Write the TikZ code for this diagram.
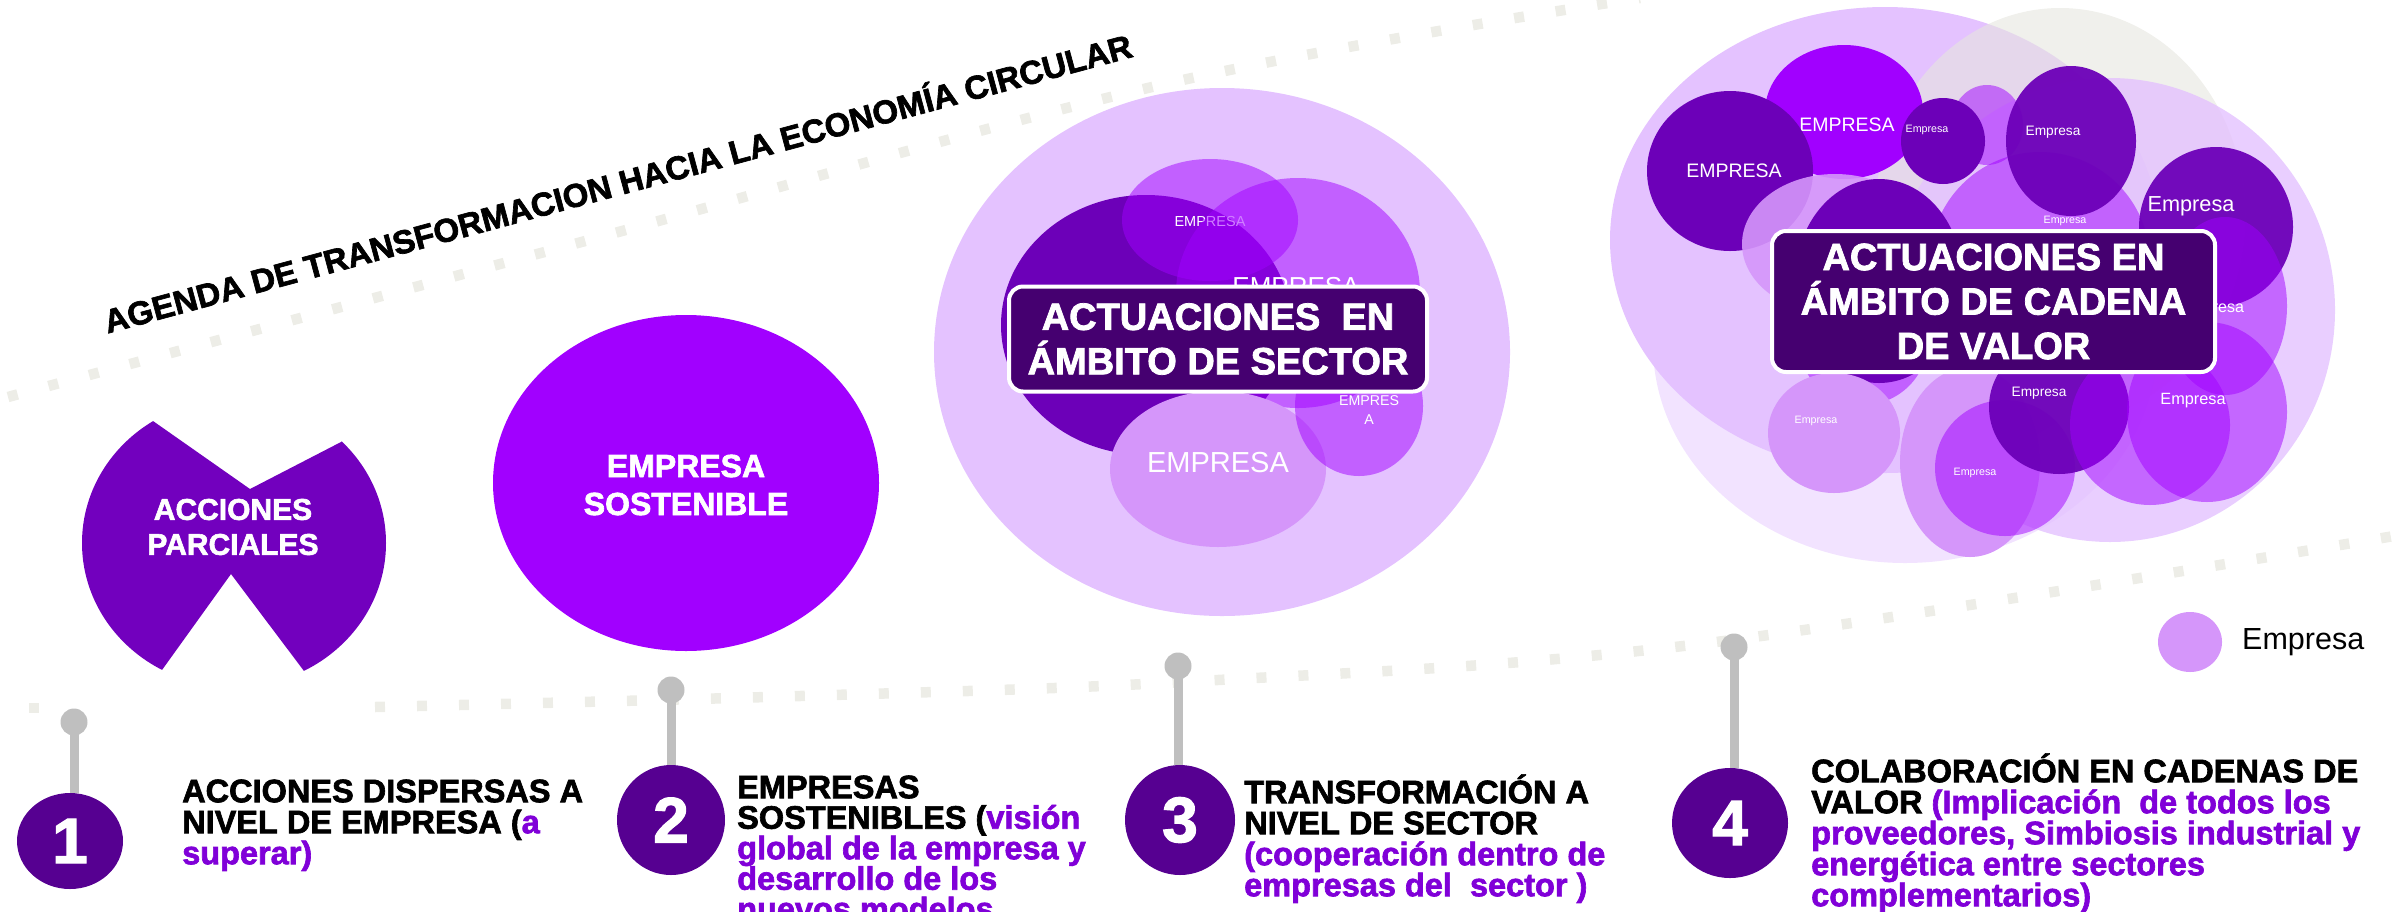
\documentclass[tikz,border=0pt]{standalone}
\usepackage{fontspec}
\setmainfont{Liberation Sans}[BoldFeatures={FakeBold=2}]
\usepackage{xcolor}
\usetikzlibrary{positioning,shapes.geometric}
\definecolor{CeViolet}{HTML}{A100FF}
\definecolor{CeShape}{HTML}{7200BE}
\definecolor{CeDark}{HTML}{6C00B8}
\definecolor{CeLav}{HTML}{E4C2FF}
\definecolor{CePale}{HTML}{F2E3FF}
\definecolor{CeLight}{HTML}{D596FA}
\definecolor{CeBox}{HTML}{450070}
\definecolor{CeNum}{HTML}{560091}
\definecolor{CeText}{HTML}{8000D8}
\definecolor{CePin}{HTML}{BFBFBF}
\definecolor{CeDot}{HTML}{EDEDE7}
\definecolor{CeGrey}{HTML}{E6E6DF}
\lineskiplimit=-40pt
\tikzset{
  dotline/.style={line width=10.5pt,draw=CeDot,dash pattern=on 10pt off 32pt},
  bubble/.style={ellipse,inner sep=0pt,outer sep=0pt,fill=#1},
  soft/.style={fill opacity=0.5},
  tag/.style={text=white,inner sep=0pt,align=center,font=\fontsize{#1}{#1}\selectfont},
  headtxt/.style={text=white,inner sep=0pt,align=center},
  actbox/.style={draw=white,line width=4pt,fill=CeBox,rounded corners=14pt,text=white,align=center,inner sep=0pt,font=\bfseries\fontsize{38}{44.5}\selectfont},
  pinhead/.style={circle,fill=CePin,minimum size=27pt,inner sep=0pt},
  pinstick/.style={draw=CePin,line width=9pt},
  numdot/.style={ellipse,fill=CeNum,text=white,inner sep=0pt,font=\bfseries\fontsize{64}{64}\selectfont},
  steptxt/.style={anchor=north west,inner sep=0pt,align=left,font=\bfseries\fontsize{32.5}{31}\selectfont}
}
\begin{document}
\begin{tikzpicture}[x=1pt,y=-1pt]
\useasboundingbox (0,0) rectangle (2397,911);
\clip (0,0) rectangle (2397,911);

\draw[dotline] plot[smooth,tension=0.6] coordinates {(8,397) (600,237) (1165,84) (1640,-2)};
\draw[dotline] plot[smooth,tension=0.6] coordinates {(375,707) (800,696) (1200,681) (1700,644) (2400,535)};
\draw[dotline] (29,708) -- (39,708);

\node[rotate=15.1,anchor=base,inner sep=0pt,font=\bfseries\fontsize{33}{33}\selectfont] (title) at (621,195) {AGENDA DE TRANSFORMACION HACIA LA ECONOMÍA CIRCULAR};

\begin{scope}
\clip (153,421) -- (250,489) -- (341,442) -- (420,380) -- (420,720) -- (304,671) -- (231,574) -- (162,670) -- (60,720) -- (60,380) -- cycle;
\fill[CeShape] (234,543) ellipse [x radius=152pt,y radius=144pt];
\end{scope}
\node[headtxt,font=\bfseries\fontsize{30}{35}\selectfont] (parc) at (233,527) {ACCIONES\\PARCIALES};

\node[bubble=CeViolet,minimum width=386pt,minimum height=336pt] (sost) at (686,483) {};
\node[headtxt,font=\bfseries\fontsize{32}{38}\selectfont] (sost-t) at (686,485) {EMPRESA\\SOSTENIBLE};

\node[bubble=CeLav,minimum width=576pt,minimum height=528pt] (sec) at (1222,352) {};
\node[bubble=CeDark,minimum width=290pt,minimum height=260pt] (secdark) at (1146,325) {};
\node[bubble=CeViolet,soft,minimum width=176pt,minimum height=122pt] (sectop) at (1210,220) {};
\node[tag=14.5] (sectop-t) at (1210,222) {EMPRESA};
\node[bubble=CeViolet,soft,minimum width=244pt,minimum height=230pt] (secright) at (1298,293) {};
\node[tag=26] (secright-t) at (1296,287) {EMPRESA};
\node[bubble=CeLight,minimum width=216pt,minimum height=156pt] (secbot) at (1218,469) {};
\node[tag=29] (secbot-t) at (1218,463) {EMPRESA};
\node[bubble=CeViolet,soft,minimum width=128pt,minimum height=140pt] (secsmall) at (1359,406) {};
\node[tag=14.2,font=\fontsize{14.2}{19}\selectfont] (secsmall-t) at (1369,410) {EMPRES\\A};
\node[actbox,minimum width=418pt,minimum height=105pt] (secbox) at (1218,339) {ACTUACIONES\ \ EN\\ÁMBITO DE SECTOR};

\node[bubble=CePale,minimum width=504pt,minimum height=436pt] (chpale) at (1905,345) {};
\node[bubble=CeLav,minimum width=550pt,minimum height=466pt] (chlav) at (1885,240) {};
\node[bubble=CeGrey,fill opacity=0.6,minimum width=370pt,minimum height=414pt] (chgrey) at (2060,215) {};
\node[bubble=CeLav,fill opacity=0.8,minimum width=450pt,minimum height=464pt] (chlavb) at (2110,310) {};
\node[bubble=CeViolet,minimum width=158pt,minimum height=134pt] (cb) at (1844,112) {};
\node[tag=19.5] (cb-t) at (1847,125) {EMPRESA};
\node[bubble=CeDark,minimum width=166pt,minimum height=160pt] (ca) at (1730,171) {};
\node[tag=19.5] (ca-t) at (1734,171) {EMPRESA};
\node[bubble=CeViolet,soft,minimum width=72pt,minimum height=80pt] (cd) at (1987,125) {};
\node[bubble=CeDark,minimum width=84pt,minimum height=86pt] (cc) at (1943,141) {};
\node[tag=10.7] (cc-t) at (1927,130) {Empresa};
\node[bubble=CeLight,fill opacity=0.9,minimum width=186pt,minimum height=140pt] (ch) at (1835,244) {};
\node[bubble=CeViolet,soft,minimum width=220pt,minimum height=220pt] (cg) at (2040,262) {};
\node[tag=10.7] (cg-t) at (2065,221) {Empresa};
\node[bubble=CeDark,fill opacity=0.95,minimum width=130pt,minimum height=150pt] (ce) at (2071,141) {};
\node[tag=13.7] (ce-t) at (2053,132) {Empresa};
\node[bubble=CeViolet,soft,minimum width=130pt,minimum height=130pt] (cp) at (1863,340) {};
\node[bubble=CeDark,minimum width=168pt,minimum height=204pt] (ci) at (1879,281) {};
\node[bubble=CeDark,fill opacity=0.95,minimum width=154pt,minimum height=160pt] (cf) at (2216,227) {};
\node[tag=21.7] (cf-t) at (2191,206) {Empresa};
\node[bubble=CeViolet,soft,minimum width=124pt,minimum height=178pt] (cj) at (2225,306) {};
\node[tag=16] (cj-t) at (2212,309) {Empresa};
\node[bubble=CeLight,minimum width=140pt,minimum height=190pt] (co) at (1970,462) {};
\node[bubble=CeViolet,soft,minimum width=140pt,minimum height=136pt] (cn) at (2005,468) {};
\node[tag=10.7] (cn-t) at (1975,473) {Empresa};
\node[bubble=CeDark,fill opacity=0.95,minimum width=140pt,minimum height=134pt] (ck) at (2059,407) {};
\node[tag=13.7] (ck-t) at (2039,393) {Empresa};
\node[bubble=CeViolet,soft,minimum width=160pt,minimum height=160pt] (cr) at (2150,425) {};
\node[bubble=CeViolet,soft,minimum width=160pt,minimum height=180pt] (cl) at (2207,412) {};
\node[tag=16.3] (cl-t) at (2193,401) {Empresa};
\node[bubble=CeLight,minimum width=132pt,minimum height=120pt] (cm) at (1834,433) {};
\node[tag=10.7] (cm-t) at (1816,421) {Empresa};
\node[actbox,minimum width=443pt,minimum height=141pt] (chbox) at (1993.5,301.5) {ACTUACIONES EN\\ÁMBITO DE CADENA\\DE VALOR};

\node[bubble=CeLight,minimum width=64pt,minimum height=60pt] (legdot) at (2190,642) {};
\node[right=20pt of legdot,inner sep=0pt,font=\fontsize{30.5}{31}\selectfont] (legtxt) {Empresa};

\node[pinhead] (pin1) at (74,722) {};
\node[numdot,minimum width=106pt,minimum height=96pt] (num1) at (70,841) {1};
\draw[pinstick] (pin1.center) -- (pin1.center |- num1.north);
\node[pinhead] (pin2) at (671,690) {};
\node[numdot,minimum width=108pt,minimum height=110pt] (num2) at (671,820) {2};
\draw[pinstick] (pin2.center) -- (num2.north);
\node[pinhead] (pin3) at (1178,666) {};
\node[numdot,minimum width=110pt,minimum height=110pt] (num3) at (1180,820) {3};
\draw[pinstick] (pin3.center) -- (pin3.center |- num3.north);
\node[pinhead] (pin4) at (1734,647) {};
\node[numdot,minimum width=116pt,minimum height=110pt] (num4) at (1730,823) {4};
\draw[pinstick] (pin4.center) -- (pin4.center |- num4.north);

\node[steptxt] (step1) at (182,771) {\rule{0pt}{31pt}ACCIONES DISPERSAS A\\NIVEL DE EMPRESA (\textcolor{CeText}{a}\\\textcolor{CeText}{superar)}};
\node[steptxt,font=\bfseries\fontsize{32.5}{30.5}\selectfont] (step2) at (737,767) {\rule{0pt}{31pt}EMPRESAS\\SOSTENIBLES (\textcolor{CeText}{visión}\\\textcolor{CeText}{global de la empresa y}\\\textcolor{CeText}{desarrollo de los}\\\textcolor{CeText}{nuevos modelos}};
\node[steptxt] (step3) at (1244,772) {\rule{0pt}{31pt}TRANSFORMACIÓN A\\NIVEL DE SECTOR\\\textcolor{CeText}{(cooperación dentro de}\\\textcolor{CeText}{empresas del\ \ sector )}};
\node[steptxt] (step4) at (1811,751) {\rule{0pt}{31pt}COLABORACIÓN EN CADENAS DE\\VALOR \textcolor{CeText}{(Implicación\ \ de todos los}\\\textcolor{CeText}{proveedores, Simbiosis industrial y}\\\textcolor{CeText}{energética entre sectores}\\\textcolor{CeText}{complementarios)}};
\end{tikzpicture}
\end{document}
